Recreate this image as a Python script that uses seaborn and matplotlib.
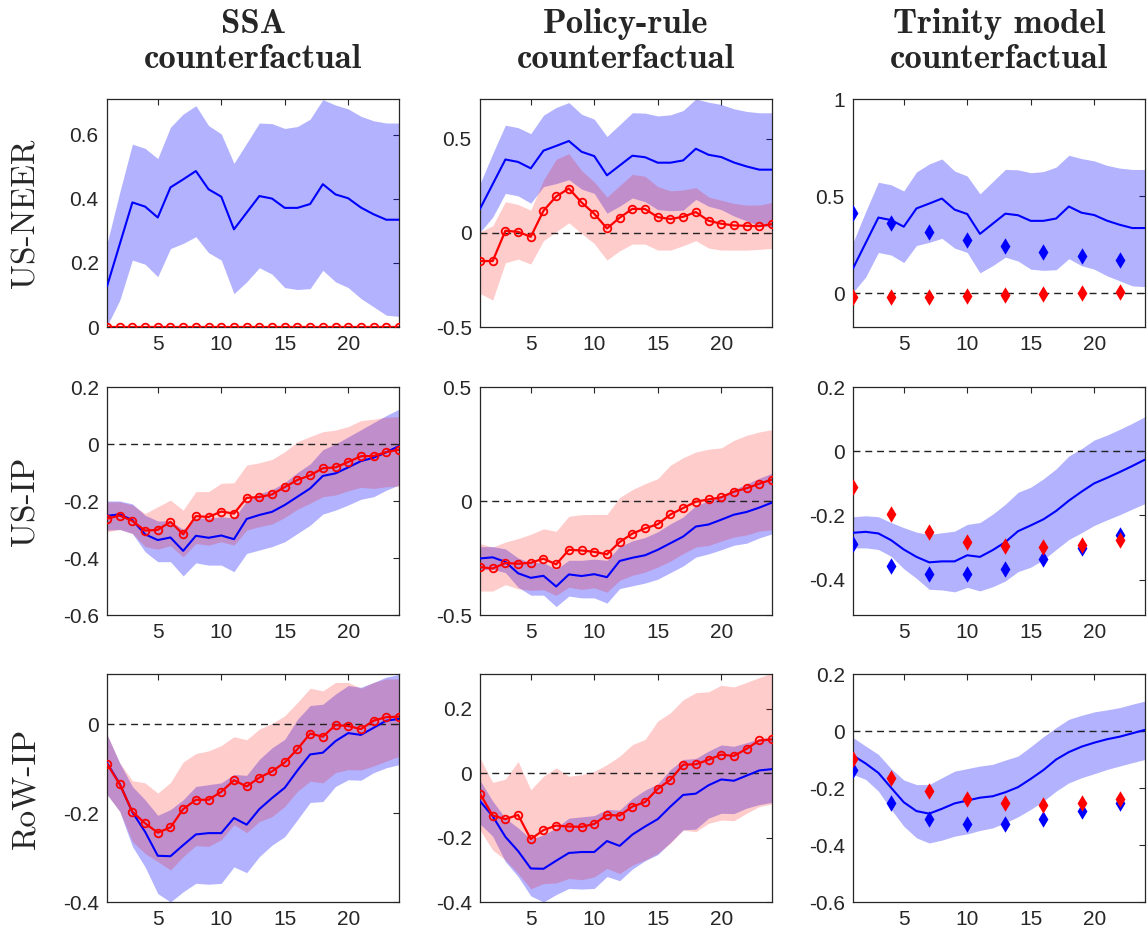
import numpy as np
import pandas as pd
import matplotlib
matplotlib.use("Agg")
import matplotlib.pyplot as plt
import seaborn as sns

# ---------------- data ----------------
horizon = list(range(1, 25))
model_h = [1, 4, 7, 10, 13, 16, 19, 22]

col_titles = ["SSA\ncounterfactual", "Policy-rule\ncounterfactual", "Trinity model\ncounterfactual"]
row_labels = ["US-NEER", "US-IP", "RoW-IP"]

# Baseline (blue) IRFs: US-NEER
neer_med = [0.127, 0.258, 0.389, 0.376, 0.342, 0.436, 0.461, 0.487, 0.430, 0.407, 0.305, 0.357,
            0.409, 0.401, 0.372, 0.372, 0.384, 0.446, 0.414, 0.402, 0.373, 0.352, 0.335, 0.335]
neer_hi = [0.26, 0.42, 0.571, 0.558, 0.526, 0.624, 0.665, 0.691, 0.629, 0.603, 0.511, 0.574,
           0.637, 0.635, 0.620, 0.626, 0.649, 0.710, 0.693, 0.681, 0.658, 0.644, 0.637, 0.637]
neer_lo = [0.003, 0.083, 0.209, 0.196, 0.157, 0.245, 0.261, 0.282, 0.232, 0.209, 0.104, 0.141,
           0.185, 0.165, 0.123, 0.117, 0.120, 0.177, 0.141, 0.123, 0.089, 0.063, 0.037, 0.033]

# Baseline (blue) IRFs: US-IP
usip_med = [-0.252, -0.247, -0.267, -0.317, -0.337, -0.328, -0.375, -0.322, -0.329, -0.321, -0.334, -0.263,
            -0.249, -0.238, -0.214, -0.185, -0.156, -0.112, -0.103, -0.082, -0.060, -0.048, -0.029, -0.007]
usip_hi = [-0.200, -0.200, -0.210, -0.250, -0.270, -0.270, -0.300, -0.260, -0.260, -0.255, -0.260, -0.200,
           -0.175, -0.160, -0.135, -0.100, -0.070, -0.020, 0.000, 0.025, 0.050, 0.075, 0.100, 0.122]
usip_lo = [-0.302, -0.300, -0.314, -0.378, -0.413, -0.413, -0.463, -0.417, -0.425, -0.425, -0.448, -0.384,
           -0.372, -0.360, -0.343, -0.314, -0.285, -0.246, -0.232, -0.214, -0.194, -0.185, -0.162, -0.144]

# Baseline (blue) IRFs: RoW-IP
rowip_med = [-0.087, -0.134, -0.198, -0.242, -0.296, -0.297, -0.272, -0.248, -0.245, -0.245, -0.211, -0.226,
             -0.191, -0.166, -0.143, -0.104, -0.068, -0.064, -0.038, -0.020, -0.024, -0.008, 0.008, 0.012]
rowip_hi = [-0.023, -0.087, -0.140, -0.170, -0.205, -0.192, -0.170, -0.140, -0.136, -0.132, -0.113, -0.115,
            -0.079, -0.053, -0.034, 0.011, 0.042, 0.045, 0.068, 0.087, 0.083, 0.094, 0.106, 0.112]
rowip_lo = [-0.158, -0.196, -0.275, -0.321, -0.381, -0.400, -0.377, -0.358, -0.360, -0.358, -0.321, -0.334,
            -0.298, -0.272, -0.253, -0.215, -0.176, -0.174, -0.140, -0.125, -0.126, -0.109, -0.098, -0.091]

# SSA counterfactual (red)
ssa_neer_med = [0.0] * 24
ssa_usip_med = [-0.262, -0.251, -0.270, -0.304, -0.301, -0.273, -0.317, -0.253, -0.256, -0.237, -0.244, -0.189,
                -0.186, -0.177, -0.151, -0.126, -0.110, -0.085, -0.082, -0.063, -0.043, -0.042, -0.028, -0.020]
ssa_usip_hi = [-0.203, -0.203, -0.214, -0.244, -0.220, -0.197, -0.232, -0.167, -0.167, -0.138, -0.136, -0.074,
               -0.066, -0.054, -0.027, 0.008, 0.026, 0.043, 0.049, 0.061, 0.082, 0.087, 0.094, 0.096]
ssa_usip_lo = [-0.308, -0.300, -0.314, -0.360, -0.369, -0.357, -0.396, -0.349, -0.355, -0.343, -0.355, -0.302,
               -0.290, -0.281, -0.258, -0.229, -0.208, -0.185, -0.179, -0.164, -0.152, -0.156, -0.150, -0.148]
ssa_rowip_med = [-0.089, -0.135, -0.197, -0.223, -0.244, -0.232, -0.191, -0.170, -0.170, -0.152, -0.126, -0.140,
                 -0.120, -0.106, -0.086, -0.056, -0.021, -0.028, -0.002, -0.004, -0.011, 0.008, 0.016, 0.017]
ssa_rowip_hi = [-0.023, -0.087, -0.127, -0.132, -0.155, -0.131, -0.085, -0.066, -0.060, -0.048, -0.028, -0.035,
                -0.011, 0.002, 0.019, 0.049, 0.081, 0.075, 0.094, 0.094, 0.081, 0.094, 0.102, 0.102]
ssa_rowip_lo = [-0.158, -0.196, -0.264, -0.291, -0.309, -0.328, -0.298, -0.273, -0.275, -0.260, -0.226, -0.244,
                -0.219, -0.208, -0.185, -0.151, -0.128, -0.132, -0.109, -0.102, -0.103, -0.094, -0.083, -0.072]

# Policy-rule counterfactual (red)
pol_neer_med = [-0.150, -0.150, 0.011, 0.005, -0.021, 0.117, 0.193, 0.235, 0.161, 0.101, 0.023, 0.080,
                0.127, 0.126, 0.083, 0.073, 0.085, 0.110, 0.064, 0.048, 0.039, 0.037, 0.035, 0.046]
pol_neer_hi = [0.005, 0.037, 0.165, 0.150, 0.120, 0.280, 0.390, 0.420, 0.330, 0.270, 0.190, 0.250,
               0.310, 0.300, 0.245, 0.223, 0.227, 0.240, 0.190, 0.173, 0.156, 0.147, 0.147, 0.161]
pol_neer_lo = [-0.322, -0.357, -0.159, -0.140, -0.166, -0.042, 0.005, 0.053, -0.004, -0.057, -0.145, -0.096,
               -0.060, -0.060, -0.092, -0.092, -0.069, -0.042, -0.081, -0.092, -0.092, -0.092, -0.088, -0.083]
pol_usip_med = [-0.290, -0.296, -0.272, -0.275, -0.271, -0.253, -0.278, -0.214, -0.217, -0.223, -0.234, -0.180,
                -0.143, -0.120, -0.102, -0.059, -0.031, -0.003, 0.007, 0.016, 0.041, 0.056, 0.076, 0.094]
pol_usip_hi = [-0.187, -0.202, -0.180, -0.165, -0.146, -0.122, -0.133, -0.067, -0.060, -0.059, -0.059, 0.015,
               0.050, 0.076, 0.098, 0.157, 0.190, 0.215, 0.227, 0.233, 0.266, 0.288, 0.303, 0.313]
pol_usip_lo = [-0.395, -0.395, -0.367, -0.385, -0.392, -0.389, -0.414, -0.378, -0.388, -0.381, -0.400, -0.348,
               -0.326, -0.312, -0.290, -0.264, -0.231, -0.202, -0.195, -0.176, -0.158, -0.149, -0.132, -0.126]
pol_rowip_med = [-0.064, -0.132, -0.143, -0.130, -0.205, -0.177, -0.163, -0.166, -0.167, -0.158, -0.130, -0.132,
                 -0.104, -0.090, -0.049, -0.021, 0.026, 0.027, 0.041, 0.057, 0.053, 0.075, 0.101, 0.104]
pol_rowip_hi = [0.047, -0.029, -0.019, 0.036, -0.052, -0.010, 0.016, -0.010, -0.005, 0.005, 0.026, 0.052,
                0.088, 0.104, 0.161, 0.187, 0.227, 0.249, 0.252, 0.272, 0.267, 0.281, 0.296, 0.310]
pol_rowip_lo = [-0.177, -0.239, -0.270, -0.312, -0.359, -0.343, -0.341, -0.327, -0.331, -0.322, -0.296, -0.312,
                -0.286, -0.270, -0.249, -0.218, -0.177, -0.182, -0.156, -0.146, -0.148, -0.125, -0.104, -0.096]

# Trinity model panels: smooth IRFs (rows 2, 3)
tri_usip_med = [-0.254, -0.251, -0.256, -0.277, -0.306, -0.329, -0.346, -0.343, -0.343, -0.324, -0.329, -0.308,
                -0.283, -0.249, -0.231, -0.212, -0.186, -0.154, -0.126, -0.100, -0.083, -0.065, -0.046, -0.026]
tri_usip_hi = [-0.204, -0.201, -0.204, -0.222, -0.238, -0.252, -0.259, -0.254, -0.249, -0.228, -0.222, -0.196,
               -0.165, -0.128, -0.112, -0.086, -0.055, -0.015, 0.008, 0.035, 0.050, 0.068, 0.087, 0.108]
tri_usip_lo = [-0.301, -0.301, -0.306, -0.327, -0.366, -0.396, -0.430, -0.432, -0.438, -0.424, -0.435, -0.422,
               -0.404, -0.375, -0.361, -0.338, -0.306, -0.275, -0.254, -0.231, -0.214, -0.198, -0.180, -0.163]
tri_rowip_med = [-0.086, -0.114, -0.147, -0.199, -0.250, -0.281, -0.290, -0.273, -0.254, -0.244, -0.234, -0.229,
                 -0.215, -0.197, -0.168, -0.137, -0.100, -0.074, -0.055, -0.041, -0.029, -0.020, -0.008, 0.004]
tri_rowip_hi = [-0.023, -0.053, -0.082, -0.132, -0.172, -0.188, -0.188, -0.164, -0.141, -0.132, -0.123, -0.117,
                -0.102, -0.088, -0.055, -0.020, 0.012, 0.041, 0.055, 0.067, 0.074, 0.082, 0.094, 0.105]
tri_rowip_lo = [-0.152, -0.170, -0.211, -0.275, -0.334, -0.375, -0.393, -0.383, -0.369, -0.361, -0.349, -0.340,
                -0.322, -0.301, -0.275, -0.246, -0.211, -0.182, -0.164, -0.150, -0.135, -0.123, -0.111, -0.100]

# Trinity model diamonds (blue: baseline, red: counterfactual)
tri_neer_base = [0.415, 0.361, 0.313, 0.275, 0.242, 0.214, 0.190, 0.171]
tri_neer_cf = [-0.022, -0.022, -0.019, -0.016, -0.010, -0.005, 0.000, 0.005]
tri_usip_base = [-0.288, -0.356, -0.382, -0.383, -0.366, -0.335, -0.301, -0.261]
tri_usip_cf = [-0.110, -0.194, -0.251, -0.282, -0.296, -0.298, -0.291, -0.275]
tri_rowip_base = [-0.138, -0.252, -0.308, -0.328, -0.326, -0.308, -0.281, -0.252]
tri_rowip_cf = [-0.097, -0.164, -0.211, -0.240, -0.254, -0.258, -0.252, -0.240]

# axis limits and ticks
ylims = [[(0, 0.712), (-0.5, 0.71), (-0.175, 1.0)],
         [(-0.6, 0.2), (-0.5, 0.5), (-0.51, 0.2)],
         [(-0.4, 0.113), (-0.4, 0.307), (-0.6, 0.2)]]
yticks = [[[0, 0.2, 0.4, 0.6], [-0.5, 0, 0.5], [0, 0.5, 1]],
          [[-0.6, -0.4, -0.2, 0, 0.2], [-0.5, 0, 0.5], [-0.4, -0.2, 0, 0.2]],
          [[-0.4, -0.2, 0], [-0.4, -0.2, 0, 0.2], [-0.6, -0.4, -0.2, 0, 0.2]]]
xticks = [5, 10, 15, 20]

# ---------------- style ----------------
sns.set_theme(style="white")
plt.rcParams["font.family"] = ["Liberation Sans", "DejaVu Sans"]
plt.rcParams["axes.unicode_minus"] = False

BLUE = (0, 0, 1)
RED = (1, 0, 0)

fig = plt.figure(figsize=(11.48, 9.38), dpi=100)

lefts = [107 / 1148, 480 / 1148, 853 / 1148]
width = 292 / 1148
bottoms = [1 - 327 / 938, 1 - 615 / 938, 1 - 902 / 938]
height = 228 / 938

blue_sets = [(neer_med, neer_lo, neer_hi), (usip_med, usip_lo, usip_hi), (rowip_med, rowip_lo, rowip_hi)]
tri_blue_sets = [(neer_med, neer_lo, neer_hi), (tri_usip_med, tri_usip_lo, tri_usip_hi),
                 (tri_rowip_med, tri_rowip_lo, tri_rowip_hi)]
ssa_sets = [(ssa_neer_med, None, None), (ssa_usip_med, ssa_usip_lo, ssa_usip_hi),
            (ssa_rowip_med, ssa_rowip_lo, ssa_rowip_hi)]
pol_sets = [(pol_neer_med, pol_neer_lo, pol_neer_hi), (pol_usip_med, pol_usip_lo, pol_usip_hi),
            (pol_rowip_med, pol_rowip_lo, pol_rowip_hi)]
tri_dia = [(tri_neer_base, tri_neer_cf), (tri_usip_base, tri_usip_cf), (tri_rowip_base, tri_rowip_cf)]


def draw_band_line(ax, med, lo, hi, color, alpha, red_style=False):
    if lo is not None:
        ax.fill_between(horizon, lo, hi, color=color, alpha=alpha, linewidth=0)
    df = pd.DataFrame({"h": horizon, "v": med})
    if red_style:
        sns.lineplot(data=df, x="h", y="v", ax=ax, color=color, linewidth=1.6, marker="o",
                     markersize=5.5, markerfacecolor="none", markeredgecolor=color,
                     markeredgewidth=1.3, estimator=None, zorder=4)
    else:
        sns.lineplot(data=df, x="h", y="v", ax=ax, color=color, linewidth=1.5,
                     estimator=None, zorder=3)


for r in range(3):
    for c in range(3):
        ax = fig.add_axes([lefts[c], bottoms[r], width, height])
        ax.axhline(0, color="#222222", linestyle=(0, (5, 3.5)), linewidth=1.0, zorder=2)
        if c < 2:
            med, lo, hi = blue_sets[r]
            draw_band_line(ax, med, lo, hi, BLUE, 0.3)
            rmed, rlo, rhi = (ssa_sets if c == 0 else pol_sets)[r]
            draw_band_line(ax, rmed, rlo, rhi, RED, 0.2, red_style=True)
        else:
            med, lo, hi = tri_blue_sets[r]
            draw_band_line(ax, med, lo, hi, BLUE, 0.3)
            base, cf = tri_dia[r]
            d1 = pd.DataFrame({"h": model_h, "v": base})
            d2 = pd.DataFrame({"h": model_h, "v": cf})
            sns.scatterplot(data=d1, x="h", y="v", ax=ax, color=BLUE, marker="d", s=70,
                            linewidth=0, zorder=5)
            sns.scatterplot(data=d2, x="h", y="v", ax=ax, color=RED, marker="d", s=70,
                            linewidth=0, zorder=5)
        ax.set_xlim(1, 24)
        ax.set_ylim(*ylims[r][c])
        ax.set_xticks(xticks)
        ax.set_yticks(yticks[r][c])
        ax.set_yticklabels([("%g" % t) for t in yticks[r][c]])
        ax.set_xlabel("")
        ax.set_ylabel("")
        ax.tick_params(direction="in", top=True, right=True, length=4, width=0.8,
                       labelsize=15, colors="#262626", pad=6)
        for s in ax.spines.values():
            s.set_color("#262626")
            s.set_linewidth(0.9)
            s.set_visible(True)
        if r == 0:
            ax.set_title(col_titles[c], pad=22, family="cmb10", fontsize=25,
                         fontweight="bold", linespacing=1.2)
        if c == 0:
            fig.text(26 / 1148, bottoms[r] + height / 2, row_labels[r], rotation=90,
                     ha="center", va="center", family="cmr10", fontsize=24)

fig.savefig("out.png", dpi=100)
